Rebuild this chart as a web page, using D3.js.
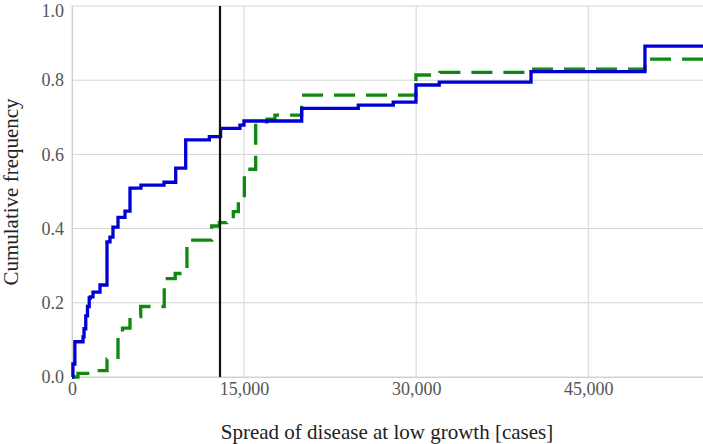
<!DOCTYPE html>
<html><head><meta charset="utf-8">
<script src="https://cdn.jsdelivr.net/npm/d3@7"></script>
<style>body{margin:0;background:#fff}svg{display:block}
text{font-family:"Liberation Serif","Tinos","Times New Roman","DejaVu Serif",serif !important}</style>
</head><body>
<svg id="c" width="703" height="444"></svg>
<script>
const xTicks = [0, 15000, 30000, 45000];
const yTicks = [0, 0.2, 0.4, 0.6, 0.8, 1.0];
const thresholdX = 12900;
// blue (solid) step curve: x where step occurs, value after step
const blueX = [0, 80, 250, 960, 1050, 1200, 1350, 1500, 1600, 1830, 2440, 3050, 3310, 3570, 4010, 4620, 5055, 6010, 8020, 9040, 9910, 11970, 12950, 14640, 14990, 20020, 24950, 28000, 29980, 32010, 40010, 49940, 55000];
const blueY = [0, 0.035, 0.095, 0.108, 0.13, 0.165, 0.19, 0.213, 0.216, 0.229, 0.248, 0.364, 0.377, 0.404, 0.43, 0.447, 0.509, 0.517, 0.525, 0.563, 0.639, 0.648, 0.67, 0.679, 0.69, 0.724, 0.733, 0.741, 0.787, 0.795, 0.823, 0.892, 0.892];
// green (dashed) step curve
const greenX = [0, 520, 2200, 3050, 4010, 4400, 5055, 5990, 8040, 9000, 10020, 12180, 12850, 13480, 14060, 14500, 15020, 16010, 17000, 17690, 20020, 29980, 32070, 39920, 49940, 55000];
const greenY = [0, 0.01, 0.017, 0.048, 0.12, 0.132, 0.163, 0.19, 0.265, 0.279, 0.369, 0.407, 0.416, 0.425, 0.446, 0.482, 0.56, 0.688, 0.695, 0.706, 0.76, 0.814, 0.821, 0.83, 0.857, 0.857];

const svg = d3.select("#c");
const L = 72, R = 703, T = 6, B = 377;
const x = d3.scaleLinear().domain([0, 55000]).range([L, R]);
const y = d3.scaleLinear().domain([0, 1]).range([B, T]);
const font = "Liberation Serif";

// grid
svg.append("g").selectAll("line").data(yTicks).join("line")
  .attr("x1", L).attr("x2", R).attr("y1", d => y(d)).attr("y2", d => y(d))
  .attr("stroke", "#d4d4d4").attr("stroke-width", 1);
svg.append("g").selectAll("line").data(xTicks).join("line")
  .attr("x1", d => x(d)).attr("x2", d => x(d)).attr("y1", T).attr("y2", B)
  .attr("stroke", "#d4d4d4").attr("stroke-width", 1);

// axes
const xAxis = svg.append("g").attr("transform", `translate(0,${B})`)
  .call(d3.axisBottom(x).tickValues(xTicks).tickSize(0).tickPadding(5).tickFormat(d3.format(",")));
const yAxis = svg.append("g").attr("transform", `translate(${L},0)`)
  .call(d3.axisLeft(y).tickValues(yTicks).tickSize(0).tickPadding(8).tickFormat(d3.format(".1f")));
[xAxis, yAxis].forEach(g => {
  g.attr("font-family", font);
  g.select(".domain").attr("stroke", "#cfcfcf");
  g.selectAll("text").attr("font-size", 18).attr("fill", "#555");
});
yAxis.selectAll("text").filter(d => d === 1).attr("dy", "0.6em");

const line = d3.line().curve(d3.curveStepAfter).x(d => x(d[0])).y(d => y(d[1]));
const g = svg.append("g");
g.append("path").datum(greenX.map((v, i) => [v, greenY[i]]))
  .attr("d", line).attr("fill", "none").attr("stroke", "#0f8a0f")
  .attr("stroke-width", 3.3).attr("stroke-dasharray", "21,11");
g.append("path").datum(blueX.map((v, i) => [v, blueY[i]]))
  .attr("d", line).attr("fill", "none").attr("stroke", "#0000d4")
  .attr("stroke-width", 3.3);

svg.append("line").attr("x1", x(thresholdX)).attr("x2", x(thresholdX))
  .attr("y1", T).attr("y2", B).attr("stroke", "#111").attr("stroke-width", 2.2);

svg.append("text").attr("x", 387).attr("y", 439).attr("text-anchor", "middle")
  .attr("font-size", 21).attr("fill", "#222")
  .text("Spread of disease at low growth [cases]");
svg.append("text").attr("transform", "translate(18,192) rotate(-90)").attr("text-anchor", "middle")
  .attr("font-size", 21).attr("fill", "#222")
  .text("Cumulative frequency");
</script>
</body></html>
